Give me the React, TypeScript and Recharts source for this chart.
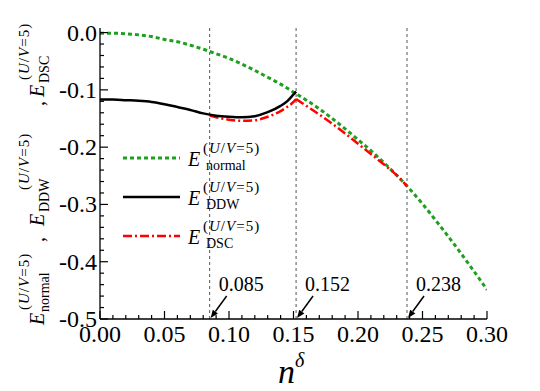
import React from "react";
import { LineChart, Line, XAxis, YAxis, ReferenceLine } from "recharts";

// energies
const normalN = [0, 0.01, 0.02, 0.03, 0.04, 0.05, 0.06, 0.07, 0.08, 0.09, 0.1, 0.11, 0.12, 0.13, 0.14, 0.15, 0.16, 0.17, 0.18, 0.19, 0.2, 0.21, 0.22, 0.23, 0.24, 0.25, 0.26, 0.27, 0.28, 0.29, 0.3];
const normalE = [-0.001, -0.001, -0.002, -0.004, -0.007, -0.012, -0.016, -0.022, -0.029, -0.037, -0.045, -0.055, -0.066, -0.078, -0.09, -0.104, -0.118, -0.133, -0.15, -0.168, -0.187, -0.206, -0.227, -0.249, -0.273, -0.299, -0.327, -0.356, -0.386, -0.417, -0.449];

const ddwN = [0, 0.01, 0.02, 0.03, 0.04, 0.05, 0.06, 0.07, 0.08, 0.09, 0.1, 0.11, 0.12, 0.13, 0.14, 0.145, 0.15, 0.152];
const ddwE = [-0.117, -0.117, -0.118, -0.119, -0.121, -0.125, -0.13, -0.135, -0.141, -0.145, -0.147, -0.148, -0.146, -0.139, -0.128, -0.12, -0.108, -0.103];

const dscLeftN = [0.085, 0.09, 0.1, 0.11, 0.12, 0.13, 0.14, 0.145, 0.15, 0.152];
const dscLeftE = [-0.145, -0.148, -0.152, -0.154, -0.153, -0.147, -0.137, -0.13, -0.121, -0.116];
const dscRightN = [0.152, 0.16, 0.17, 0.18, 0.19, 0.2, 0.21, 0.22, 0.23, 0.238];
const dscRightE = [-0.116, -0.128, -0.143, -0.159, -0.176, -0.194, -0.212, -0.23, -0.249, -0.268];

const xMajor = [0, 0.05, 0.1, 0.15, 0.2, 0.25, 0.3];
const xLabels = ["0.00", "0.05", "0.10", "0.15", "0.20", "0.25", "0.30"];
const xMinor = [0.01, 0.02, 0.03, 0.04, 0.06, 0.07, 0.08, 0.09, 0.11, 0.12, 0.13, 0.14, 0.16, 0.17, 0.18, 0.19, 0.21, 0.22, 0.23, 0.24, 0.26, 0.27, 0.28, 0.29];
const yMajor = [0, -0.1, -0.2, -0.3, -0.4, -0.5];
const yLabels = ["0.0", "-0.1", "-0.2", "-0.3", "-0.4", "-0.5"];
const yMinor = [-0.02, -0.04, -0.06, -0.08, -0.12, -0.14, -0.16, -0.18, -0.22, -0.24, -0.26, -0.28, -0.32, -0.34, -0.36, -0.38, -0.42, -0.44, -0.46, -0.48];

const marks = [0.085, 0.152, 0.238];
const markLabels = ["0.085", "0.152", "0.238"];

const seriesNames = ["normal", "DDW", "DSC"];
const seriesColors = ["#1f9f1f", "#000000", "#ff0000"];
const seriesDash = ["4 3", undefined, "9 3 2 3"];

const FONT = "serif";

const toRows = (ns: number[], es: number[]) => ns.map((n, i) => ({ n, e: es[i] }));
const normalData = toRows(normalN, normalE);
const ddwData = toRows(ddwN, ddwE);
const dscLeftData = toRows(dscLeftN, dscLeftE);
const dscRightData = toRows(dscRightN, dscRightE);

const majorIndex = (arr: number[], v: number) => arr.findIndex((m) => Math.abs(m - v) < 1e-9);

const BottomTick = (props: any) => {
  const { x, y, payload } = props;
  const i = majorIndex(xMajor, payload.value);
  const len = i >= 0 ? 8 : 4;
  return (
    <g>
      <line x1={x} x2={x} y1={y} y2={y - len} stroke="#000" strokeWidth={1.2} />
      {i >= 0 && (
        <text x={x} y={y + 23} textAnchor="middle" fontSize={24} style={{ fontFamily: FONT }} fill="#000">
          {xLabels[i]}
        </text>
      )}
    </g>
  );
};

const TopTick = (props: any) => {
  const { x, y, payload } = props;
  const len = majorIndex(xMajor, payload.value) >= 0 ? 8 : 4;
  return <line x1={x} x2={x} y1={y} y2={y + len} stroke="#000" strokeWidth={1.2} />;
};

const LeftTick = (props: any) => {
  const { x, y, payload } = props;
  const i = majorIndex(yMajor, payload.value);
  const len = i >= 0 ? 8 : 4;
  return (
    <g>
      <line x1={x} x2={x + len} y1={y} y2={y} stroke="#000" strokeWidth={1.2} />
      {i >= 0 && (
        <text x={x - 3} y={y + 8} textAnchor="end" fontSize={24} style={{ fontFamily: FONT }} fill="#000">
          {yLabels[i]}
        </text>
      )}
    </g>
  );
};

const RightTick = (props: any) => {
  const { x, y, payload } = props;
  const len = majorIndex(yMajor, payload.value) >= 0 ? 8 : 4;
  return <line x1={x} x2={x - len} y1={y} y2={y} stroke="#000" strokeWidth={1.2} />;
};

const MarkLabel = (props: any) => {
  const { viewBox, text } = props;
  if (!viewBox) return null;
  const x = viewBox.x;
  const bottom = viewBox.y + viewBox.height;
  const x1 = x + 17;
  const y1 = bottom - 23;
  const x2 = x + 1;
  const y2 = bottom - 1;
  const dx = x2 - x1;
  const dy = y2 - y1;
  const len = Math.hypot(dx, dy);
  const ux = dx / len;
  const uy = dy / len;
  const bx = x2 - ux * 8;
  const by = y2 - uy * 8;
  const pts = `${x2},${y2} ${bx - uy * 3.2},${by + ux * 3.2} ${bx + uy * 3.2},${by - ux * 3.2}`;
  return (
    <g>
      <line x1={x1} y1={y1} x2={bx} y2={by} stroke="#000" strokeWidth={1.5} />
      <polygon points={pts} fill="#000" />
      <text x={x + 9} y={bottom - 28} fontSize={20} style={{ fontFamily: FONT }} fill="#000">
        {text}
      </text>
    </g>
  );
};

// superscript "(U/V=5)"
const Sup = ({ x, y, size }: any) => (
  <text x={x} y={y} fontSize={size} style={{ fontFamily: FONT }} letterSpacing={1}>
    (<tspan fontStyle="italic">U</tspan>/<tspan fontStyle="italic">V</tspan>=5)
  </text>
);

// y-axis title, drawn in a frame turned by -90deg: local x = -screen y
const yTitleGroups = [
  { e: 325, sub: 312, sup: 310 },
  { e: 226, sub: 212, sup: 190 },
  { e: 97, sub: 83, sup: 80 },
];
const yTitleCommas = [242, 106];

const App = () => {
  return (
    <div
      style={{
        position: "absolute",
        left: 0,
        top: 0,
        width: 540,
        height: 391,
        background: "#fff",
        fontFamily: FONT,
      }}
    >
      <LineChart width={540} height={391} margin={{ top: 28, right: 53, bottom: 0, left: 0 }}>
        <XAxis
          xAxisId="b"
          dataKey="n"
          type="number"
          domain={[0, 0.3]}
          allowDataOverflow
          ticks={[...xMajor, ...xMinor]}
          interval={0}
          height={72}
          tickSize={0}
          tickMargin={0}
          tickLine={false}
          tick={<BottomTick />}
          axisLine={{ stroke: "#000", strokeWidth: 1.3 }}
        />
        <XAxis
          xAxisId="t"
          orientation="top"
          type="number"
          domain={[0, 0.3]}
          allowDataOverflow
          ticks={[...xMajor, ...xMinor]}
          interval={0}
          height={0}
          tickSize={0}
          tickMargin={0}
          tickLine={false}
          tick={<TopTick />}
          axisLine={{ stroke: "#000", strokeWidth: 1.3 }}
        />
        <YAxis
          yAxisId="l"
          type="number"
          domain={[-0.5, 0.008]}
          allowDataOverflow
          ticks={[...yMajor, ...yMinor]}
          interval={0}
          width={100}
          tickSize={0}
          tickMargin={0}
          tickLine={false}
          tick={<LeftTick />}
          axisLine={{ stroke: "#000", strokeWidth: 1.3 }}
        />
        <YAxis
          yAxisId="r"
          orientation="right"
          type="number"
          domain={[-0.5, 0.008]}
          allowDataOverflow
          ticks={[...yMajor, ...yMinor]}
          interval={0}
          width={0}
          tickSize={0}
          tickMargin={0}
          tickLine={false}
          tick={<RightTick />}
          axisLine={{ stroke: "#000", strokeWidth: 1.3 }}
        />
        {marks.map((m, i) => (
          <ReferenceLine
            key={m}
            x={m}
            xAxisId="b"
            yAxisId="l"
            stroke="#555"
            strokeWidth={1}
            strokeDasharray="3 3"
            label={<MarkLabel text={markLabels[i]} />}
          />
        ))}
        <Line
          xAxisId="b"
          yAxisId="l"
          data={normalData}
          dataKey="e"
          type="monotone"
          stroke={seriesColors[0]}
          strokeWidth={3}
          strokeDasharray={seriesDash[0]}
          dot={false}
          isAnimationActive={false}
        />
        <Line
          xAxisId="b"
          yAxisId="l"
          data={dscLeftData}
          dataKey="e"
          type="monotone"
          stroke={seriesColors[2]}
          strokeWidth={2.5}
          strokeDasharray={seriesDash[2]}
          dot={false}
          isAnimationActive={false}
        />
        <Line
          xAxisId="b"
          yAxisId="l"
          data={dscRightData}
          dataKey="e"
          type="monotone"
          stroke={seriesColors[2]}
          strokeWidth={2.5}
          strokeDasharray={seriesDash[2]}
          dot={false}
          isAnimationActive={false}
        />
        <Line
          xAxisId="b"
          yAxisId="l"
          data={ddwData}
          dataKey="e"
          type="monotone"
          stroke={seriesColors[1]}
          strokeWidth={2.5}
          dot={false}
          isAnimationActive={false}
        />
      </LineChart>

      <svg
        width={540}
        height={391}
        style={{ position: "absolute", left: 0, top: 0, pointerEvents: "none", fontFamily: FONT }}
      >
        {/* legend */}
        {seriesNames.map((name, i) => {
          const ly = 158 + i * 39;
          const base = ly + 8;
          return (
            <g key={name}>
              <line
                x1={123}
                x2={180}
                y1={ly}
                y2={ly}
                stroke={seriesColors[i]}
                strokeWidth={i === 0 ? 3 : 2.5}
                strokeDasharray={seriesDash[i]}
              />
              <text x={188} y={base} fontSize={20} fontStyle="italic" style={{ fontFamily: FONT }}>
                E
              </text>
              <Sup x={203} y={base - 13} size={15} />
              <text x={206} y={base + 4} fontSize={14} style={{ fontFamily: FONT }}>
                {name}
              </text>
            </g>
          );
        })}

        {/* y-axis title */}
        <g transform="translate(44,0) rotate(-90)">
          {yTitleGroups.map((g, i) => (
            <g key={i}>
              <text x={-g.e} y={0} fontSize={20} fontStyle="italic" style={{ fontFamily: FONT }}>
                E
              </text>
              <Sup x={-g.sup} y={-15} size={15} />
              <text x={-g.sub} y={5} fontSize={14} style={{ fontFamily: FONT }}>
                {seriesNames[i]}
              </text>
            </g>
          ))}
          {yTitleCommas.map((c) => (
            <text key={c} x={-c} y={0} fontSize={20} style={{ fontFamily: FONT }}>
              ,
            </text>
          ))}
        </g>

        {/* x-axis title */}
        <text x={278} y={383} fontSize={34} fontStyle="italic" style={{ fontFamily: FONT }}>
          n
        </text>
        <text x={295} y={367} fontSize={20} fontStyle="italic" style={{ fontFamily: FONT }}>
          δ
        </text>
      </svg>
    </div>
  );
};

export default App;
